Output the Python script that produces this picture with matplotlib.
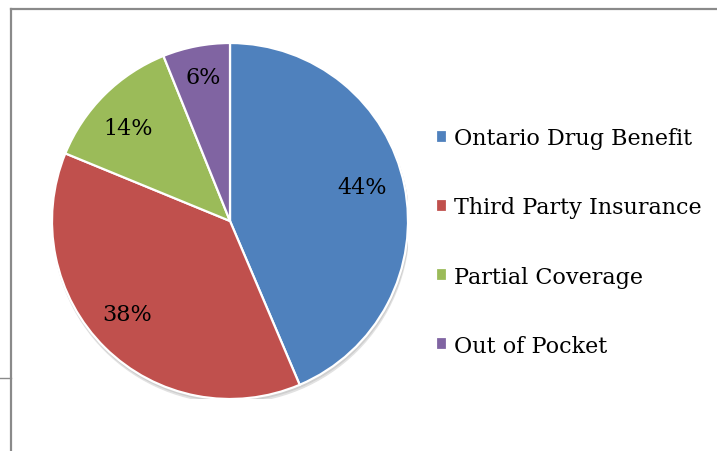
import matplotlib
matplotlib.use("Agg")
import matplotlib.pyplot as plt
from matplotlib.lines import Line2D
from matplotlib.patches import Circle

categories = ["Ontario Drug Benefit", "Third Party Insurance", "Partial Coverage", "Out of Pocket"]
shares = [43.6, 37.6, 12.7, 6.1]
pct_labels = ["44%", "38%", "14%", "6%"]
colors = ["#4f81bd", "#c0504d", "#9bbb59", "#8064a2"]

W, H = 717, 452
fig = plt.figure(figsize=(W / 100, H / 100), dpi=100)
plt.rcParams["font.family"] = "DejaVu Serif"

# pie axes: centre (230, 222) px, radius 178 px
cx, cy, r = 230, 222, 178
ax = fig.add_axes([(cx - r) / W, (H - cy - r) / H, 2 * r / W, 2 * r / H])
# soft shadow under the pie
ax.add_patch(Circle((0.006, -0.022), 1.0, color="#e2e2e2", zorder=0))
ax.add_patch(Circle((0.004, -0.012), 1.0, color="#cfcfcf", zorder=0))
wedges, _ = ax.pie(shares, colors=colors, startangle=90, counterclock=False,
                   radius=1.0, wedgeprops={"edgecolor": "white", "linewidth": 1.6},
                   frame=False)
# data labels
label_pos = [(0.74, 0.19), (-0.58, -0.52), (-0.57, 0.52), (-0.15, 0.81)]
for (x, y), t in zip(label_pos, pct_labels):
    ax.text(x, y, t, ha="center", va="center", fontsize=16, color="black")
ax.set_xlim(-1, 1)
ax.set_ylim(-1, 1)
ax.axis("off")

fig.legend(wedges, categories, loc="center left", bbox_to_anchor=(436 / W, 1 - 243 / H),
           frameon=False, fontsize=16, handlelength=0.5, handleheight=0.5,
           handletextpad=0.3, labelspacing=2.12, borderpad=0, borderaxespad=0)

# frame around the chart
gray = "#8a8a8a"
fig.add_artist(Line2D([11 / W, 1], [1 - 10 / H, 1 - 10 / H], color=gray, lw=1.6))
fig.add_artist(Line2D([11 / W, 11 / W], [0, 1 - 10 / H], color=gray, lw=1.6))
fig.add_artist(Line2D([0, 11 / W], [1 - 379 / H, 1 - 379 / H], color=gray, lw=1.0))

fig.savefig("out.png", dpi=100)
